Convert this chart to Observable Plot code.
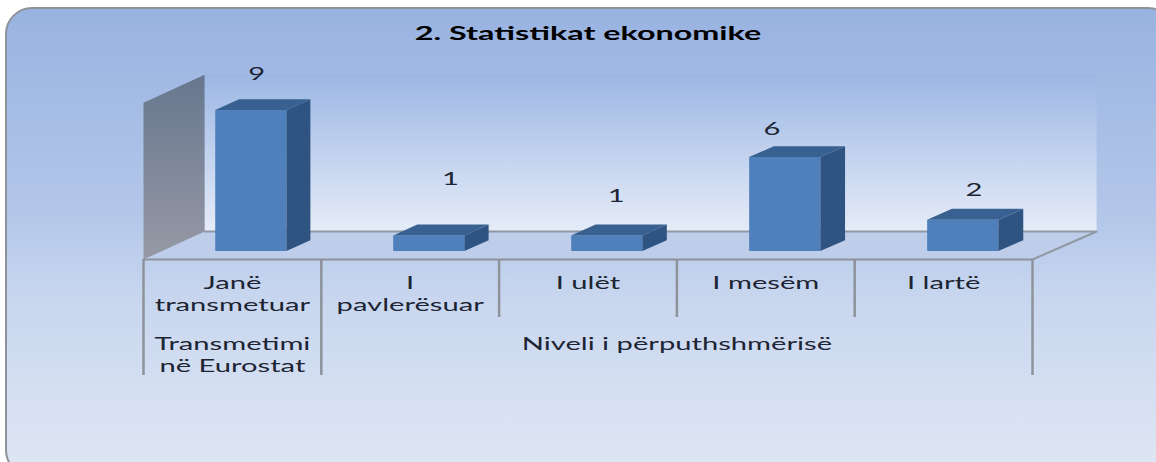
<!DOCTYPE html>
<html>
<head>
<meta charset="utf-8">
<script src="https://cdn.jsdelivr.net/npm/d3@7"></script>
<script src="https://cdn.jsdelivr.net/npm/@observablehq/plot@0.6"></script>
<style>
html,body{margin:0;padding:0;background:#fff;width:1156px;height:462px;overflow:hidden}
#panel{position:absolute;left:5px;top:7px;width:1170px;height:470px;box-sizing:border-box;border:2.5px solid #8e939b;border-radius:27px;
background:linear-gradient(180deg,#99b3e1 0%,#b3c7e9 45%,#c6d5ee 60%,#e0e7f4 100%)}
#chart{position:absolute;left:0;top:0}
svg{display:block;background:transparent !important}
</style>
</head>
<body>
<div id="panel"></div>
<div id="chart"></div>
<script>
const title = "2. Statistikat ekonomike";
const categories = ["Janë\ntransmetuar", "I\npavlerësuar", "I ulët", "I mesëm", "I lartë"];
const values = [9, 1, 1, 6, 2];
const groups = ["Transmetimi\nnë Eurostat", "Niveli i përputhshmërisë"];
const groupSpans = [[0, 1], [1, 5]];
const axisMax = 10;

// oblique projection: depth 0 is the front edge of the floor, depth 1 the back wall
const depthX = 0.3435, depthXGrow = 0.0034, depthY = 1.787;
const at = (u, v, d) => ({x: u + d * (depthX + u * depthXGrow), y: v + d * depthY});
const barFrontDepth = 0.3, barBackDepth = 0.69, barStart = 0.3, barEnd = 0.7;

function poly(id, corners) { return corners.map(([u, v, d]) => ({id, ...at(u, v, d)})); }

const n = categories.length;
const leftWall = poly("wall", [[0,0,0],[0,axisMax,0],[0,axisMax,1],[0,0,1]]);
const backWall = poly("back", [[0,0,1],[0,axisMax,1],[n,axisMax,1],[n,0,1]]);
const floor = poly("floor", [[0,0,0],[0,0,1],[n,0,1],[n,0,0]]);
const floorEdges = [...poly("a", [[0,0,1],[n,0,1],[n,0,0]])];

const fronts = [], sides = [], tops = [];
values.forEach((v, i) => {
  const a = i + barStart, b = i + barEnd, f = barFrontDepth, k = barBackDepth;
  fronts.push(...poly("f" + i, [[a,0,f],[a,v,f],[b,v,f],[b,0,f]]));
  sides.push(...poly("s" + i, [[b,0,f],[b,v,f],[b,v,k],[b,0,k]]));
  tops.push(...poly("t" + i, [[a,v,f],[a,v,k],[b,v,k],[b,v,f]]));
});

const labelNudge = [[-6,-25],[10,-45],[-2,-28],[-24,-17],[0,-19]];
const tier1 = -3.7, tier2 = -7.4;
const face = "Lato, sans-serif";
const txt = {fontFamily: face, fill: "#1d2433"};
const stretch = 1.62, titleStretch = 1.7;

const defs = () => {
  const s = d3.create("svg:defs");
  const grad = (id, stops) => {
    const g = s.append("linearGradient").attr("id", id).attr("x1", 0).attr("x2", 0).attr("y1", 0).attr("y2", 1);
    stops.forEach(([o, c]) => g.append("stop").attr("offset", o).attr("stop-color", c));
  };
  grad("gBack", [[0, "#9db7e4"], [1, "#e6ecf8"]]);
  grad("gWall", [[0, "#67778f"], [1, "#9799a5"]]);
  return s.node();
};

const chart = Plot.plot({
  width: 1156, height: 462,
  marginTop: 0, marginRight: 0, marginBottom: 0, marginLeft: 0,
  style: {background: "transparent"},
  x: {domain: [0, n], range: [143, 1032], axis: null},
  y: {domain: [0, axisMax], range: [259, 102.3], axis: null},
  marks: [
    defs,
    Plot.line(backWall, {x: "x", y: "y", z: "id", fill: "url(#gBack)", stroke: "none"}),
    Plot.line(floor, {x: "x", y: "y", z: "id", fill: "#bdcdea", stroke: "none"}),
    Plot.line(leftWall, {x: "x", y: "y", z: "id", fill: "url(#gWall)", stroke: "none"}),
    Plot.line(floorEdges, {x: "x", y: "y", stroke: "#9097a3", strokeWidth: 2}),
    Plot.line(fronts, {x: "x", y: "y", z: "id", fill: "#4f80bc", stroke: "none"}),
    Plot.line(sides, {x: "x", y: "y", z: "id", fill: "#2f5482", stroke: "none"}),
    Plot.line(tops, {x: "x", y: "y", z: "id", fill: "#386090", stroke: "none"}),
    Plot.ruleY([0], {x1: 0, x2: n, stroke: "#8e939b", strokeWidth: 2}),
    Plot.ruleX([0, 1, 5], {y1: 0, y2: tier2, stroke: "#8e939b", strokeWidth: 2.5}),
    Plot.ruleX([2, 3, 4], {y1: 0, y2: tier1, stroke: "#8e939b", strokeWidth: 2.5}),
    ...values.map((v, i) => Plot.text([v], {
      x: () => i + (barStart + barEnd) / 2 + (barFrontDepth + barBackDepth) / 2 * depthX,
      y: d => d + barBackDepth * depthY,
      text: d => String(d),
      dx: labelNudge[i][0], dy: labelNudge[i][1],
      fontSize: 18, ...txt
    })),
    Plot.text(categories, {
      x: (d, i) => i + 0.5, y: () => 0, text: d => d,
      lineAnchor: "top", dy: 14, fontSize: 18, lineHeight: 1.23, ...txt
    }),
    Plot.text(groups, {
      x: (d, i) => (groupSpans[i][0] + groupSpans[i][1]) / 2, y: () => tier1,
      text: d => d,
      lineAnchor: "top", dy: 17, fontSize: 18, lineHeight: 1.23, ...txt
    }),
    Plot.text([title], {
      x: () => n / 2, y: () => axisMax + 4.4, text: d => d,
      fontSize: 19, fontWeight: "bold", fontFamily: face, fill: "#000"
    })
  ]
});
chart.querySelectorAll("text").forEach(t => {
  const tf = t.getAttribute("transform");
  if (!tf) return;
  const sx = t.textContent === title ? titleStretch : stretch;
  t.setAttribute("transform", tf + ` scale(${sx},1)`);
});
document.getElementById("chart").append(chart);
</script>
</body>
</html>
